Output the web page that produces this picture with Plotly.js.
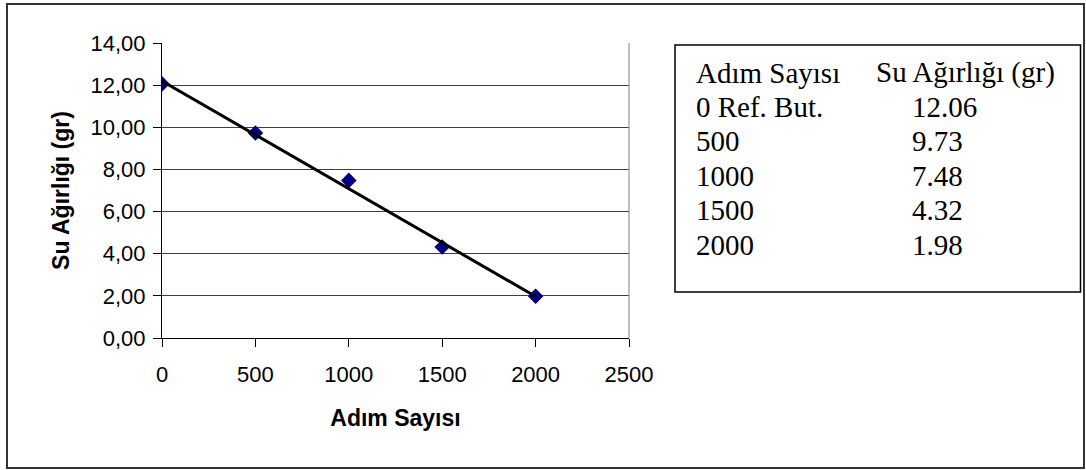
<!DOCTYPE html>
<html>
<head>
<meta charset="utf-8">
<script src="https://cdn.plot.ly/plotly-3.0.1.min.js"></script>
<style>html,body{margin:0;padding:0;background:#fff;}#chart{width:1086px;height:470px;}</style>
</head>
<body>
<div id="chart"></div>
<script>
// ---- data ----
const steps = [0, 500, 1000, 1500, 2000];
const water = [12.06, 9.73, 7.48, 4.32, 1.98];
const trendX = [0, 2000];
const trendY = [12.2, 1.97];
const tableHeader = ['Adım Sayısı', 'Su Ağırlığı (gr)'];
const stepLabels = ['0 Ref. But.', '500', '1000', '1500', '2000'];
const waterLabels = ['12.06', '9.73', '7.48', '4.32', '1.98'];
const xTitle = 'Adım Sayısı';
const yTitle = 'Su Ağırlığı (gr)';

// ---- layout helpers (pixel -> paper) ----
const W = 1086, H = 470;
const M = {l: 162, r: 457, t: 43, b: 132};
const PW = W - M.l - M.r, PH = H - M.t - M.b;
const px = x => (x - M.l) / PW;
const py = y => (H - M.b - y) / PH;

const sans = 'Arial, "Liberation Sans", sans-serif';
const serif = '"Times New Roman", "Liberation Serif", serif';

const traces = [
  {x: steps, y: water, type: 'scatter', mode: 'markers',
   marker: {symbol: 'diamond', size: 12, color: '#000080'}, showlegend: false, hoverinfo: 'x+y'},
  {x: trendX, y: trendY, type: 'scatter', mode: 'lines',
   line: {color: '#000000', width: 3}, showlegend: false, hoverinfo: 'skip'}
];

const annotations = [];
const rowY = [72.5, 106.5, 141, 175.5, 210, 244.5];
const col1 = [tableHeader[0]].concat(stepLabels);
const col2 = [tableHeader[1]].concat(waterLabels);
col1.forEach((t, i) => annotations.push({text: t, xref: 'paper', yref: 'paper', x: px(694), y: py(rowY[i]),
  xanchor: 'left', yanchor: 'middle', showarrow: false, font: {family: serif, size: 29, color: '#000'}}));
col2.forEach((t, i) => annotations.push({text: t, xref: 'paper', yref: 'paper', x: px(i === 0 ? 874 : 910), y: py(rowY[i]),
  xanchor: 'left', yanchor: 'middle', showarrow: false, font: {family: serif, size: 29, color: '#000'}}));

const layout = {
  width: W, height: H,
  margin: M,
  paper_bgcolor: '#ffffff', plot_bgcolor: '#ffffff',
  separators: ',.',
  font: {family: sans, size: 22, color: '#000'},
  xaxis: {
    range: [0, 2500], dtick: 500, tick0: 0, showgrid: false, zeroline: false,
    showline: true, linecolor: '#000', linewidth: 1,
    ticks: 'outside', ticklen: 8, tickcolor: '#000', ticklabelstandoff: 9,
    tickfont: {family: sans, size: 22, color: '#000'},
    title: {text: xTitle, font: {family: sans, size: 23, color: '#000', weight: 'bold'}, standoff: 23}
  },
  yaxis: {
    range: [0, 14], dtick: 2, tick0: 0, tickformat: '.2f',
    showgrid: true, gridcolor: '#404040', gridwidth: 1, zeroline: false,
    showline: true, linecolor: '#000', linewidth: 1,
    ticks: 'outside', ticklen: 8, tickcolor: '#000', ticklabelstandoff: 3,
    tickfont: {family: sans, size: 22, color: '#000'},
    title: {text: yTitle, font: {family: sans, size: 23, color: '#000', weight: 'bold'}, standoff: 14}
  },
  shapes: [
    {type: 'line', xref: 'paper', yref: 'paper', x0: 1, x1: 1, y0: 0, y1: 1, line: {color: '#808080', width: 1}},
    {type: 'rect', xref: 'paper', yref: 'paper', x0: px(675), x1: px(1080.5), y0: py(292), y1: py(45),
     line: {color: '#000', width: 1.5}},
    {type: 'rect', xref: 'paper', yref: 'paper', x0: px(7), x1: px(1084), y0: py(468), y1: py(4),
     line: {color: '#333', width: 2}}
  ],
  annotations: annotations
};

Plotly.newPlot('chart', traces, layout, {displayModeBar: false, staticPlot: true});
</script>
</body>
</html>
